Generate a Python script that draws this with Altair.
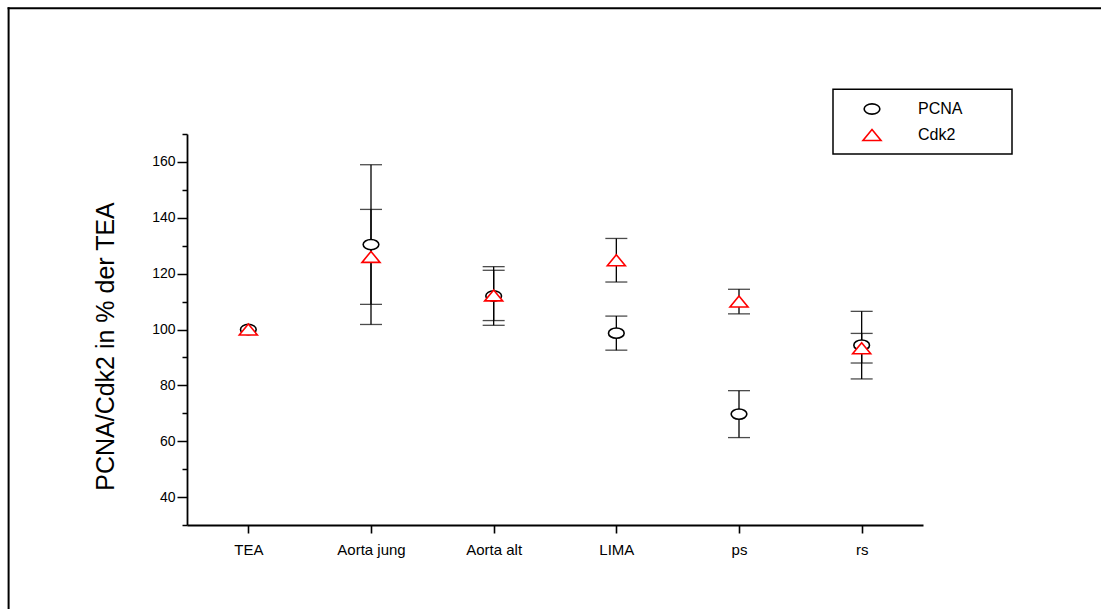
import altair as alt
import pandas as pd

categories = ["TEA", "Aorta jung", "Aorta alt", "LIMA", "ps", "rs"]
series = ["PCNA", "Cdk2"]
pcna_mean = [100.0, 130.4, 112.0, 98.7, 69.7, 94.4]
pcna_err = [0.0, 28.6, 10.5, 6.1, 8.4, 12.1]
cdk2_mean = [100.0, 126.0, 112.2, 124.8, 110.0, 93.3]
cdk2_err = [0.0, 17.0, 9.0, 7.8, 4.4, 5.3]
y_major = [40, 60, 80, 100, 120, 140, 160]
y_minor = [30, 50, 70, 90, 110, 130, 150, 170]
y_title = "PCNA/Cdk2 in % der TEA"

rows = []
for s, means, errs in [("PCNA", pcna_mean, pcna_err), ("Cdk2", cdk2_mean, cdk2_err)]:
    for c, m, e in zip(categories, means, errs):
        rows.append({"cat": c, "series": s, "mean": m, "lo": m - e, "hi": m + e, "err": e})
df = pd.DataFrame(rows)
err_df = df[df["err"] > 0]

FONT = "Liberation Sans"
ELLIPSE = "M -1 0 A 1 0.65 0 1 1 1 0 A 1 0.65 0 1 1 -1 0 Z"
TRIANGLE = "M 0 -0.7 L 1.15 0.7 L -1.15 0.7 Z"

yscale = alt.Scale(domain=[30, 170], nice=False, zero=False)
xscale = alt.Scale(type="point", padding=0.5, domain=categories)
x_axis = alt.Axis(title=None, labelAngle=0, labelFontSize=15, labelPadding=9,
                  tickSize=8, tickWidth=1.6, domainWidth=1.8)
X = alt.X("cat:N", scale=xscale, sort=categories, axis=x_axis)

major_axis = alt.Axis(orient="left", values=y_major, tickSize=10, tickWidth=1.5,
                      domainWidth=1.8, labelFontSize=14, labelPadding=2,
                      title=y_title, titleFontSize=25, titleFontWeight="normal",
                      titleX=-82, titleY=212, titleAngle=270, titleAlign="center",
                      titleBaseline="middle")
minor_axis = alt.Axis(orient="left", values=y_minor, tickSize=5, tickWidth=1.5,
                      labels=False, domain=False, title=None)

base_err = alt.Chart(err_df)
rules = base_err.mark_rule(color="black", strokeWidth=1.3).encode(
    x=X, y=alt.Y("lo:Q", scale=yscale, axis=major_axis), y2="hi:Q")
caps_hi = base_err.mark_tick(color="black", size=22, thickness=1.3).encode(
    x=X, y=alt.Y("hi:Q", scale=yscale, axis=minor_axis))
caps_lo = base_err.mark_tick(color="black", size=22, thickness=1.3).encode(
    x=X, y=alt.Y("lo:Q", scale=yscale, axis=None))

legend = alt.Legend(title=None, orient="none", legendX=676, legendY=-34,
                    padding=0, labelFont=FONT, labelFontSize=16, labelColor="black",
                    labelOffset=37, rowPadding=8, symbolSize=246,
                    symbolStrokeWidth=1.6)
points = alt.Chart(df).mark_point(filled=False, fill="white", size=246,
                                  strokeWidth=1.6, opacity=1).encode(
    x=X,
    y=alt.Y("mean:Q", scale=yscale, axis=None),
    color=alt.Color("series:N", scale=alt.Scale(domain=series, range=["black", "red"]),
                    legend=legend),
    shape=alt.Shape("series:N", scale=alt.Scale(domain=series, range=[ELLIPSE, TRIANGLE]),
                    legend=legend),
)

one = alt.Data(values=[{"k": 1}])
# outer frame: only its top and left edges fall inside the picture
frame_top = alt.Chart(one).mark_rule(color="black", strokeWidth=2).encode(
    x=alt.value(-179.4), x2=alt.value(914), y=alt.value(-125.7))
frame_left = alt.Chart(one).mark_rule(color="black", strokeWidth=2).encode(
    x=alt.value(-178.4), y=alt.value(-126.7), y2=alt.value(475))
legend_box = alt.Chart(one).mark_rect(fill="white", stroke="black", strokeWidth=1.5).encode(
    x=alt.value(646), x2=alt.value(825), y=alt.value(-44.7), y2=alt.value(20))

chart = alt.layer(frame_top, frame_left, legend_box, rules, caps_hi, caps_lo, points).resolve_axis(
    y="independent"
).properties(
    width=736, height=391,
    autosize=alt.AutoSizeParams(type="none"),
    padding={"left": 187, "top": 134, "right": 178, "bottom": 84},
).configure(font=FONT).configure_axis(
    domainColor="black", tickColor="black", labelColor="black", titleColor="black",
    grid=False, labelFont=FONT, titleFont=FONT,
).configure_view(stroke=None)

chart.save("out.html", embed_options={"renderer": "svg", "actions": False})
